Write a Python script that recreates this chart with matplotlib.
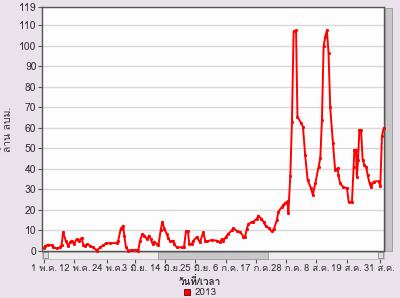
import matplotlib
matplotlib.use("Agg")
import matplotlib.pyplot as plt
from matplotlib import font_manager, ft2font
from matplotlib.patches import Rectangle

# ---------------- data ----------------
days = [0, 0.4, 1.5, 2.8, 3.4, 4.6, 5.8, 6.4, 7.0, 7.9, 8.8, 9.5, 10.1, 10.9, 11.9,
        12.6, 13.7, 14.3, 14.9, 15.8, 16.7, 17.9, 19.2, 20.4, 21.6, 22.6, 24.0, 26.4,
        27.0, 27.9, 28.8, 29.2, 29.8, 30.7, 31.9, 33.7, 34.3, 34.9, 35.8, 36.5, 37.4,
        38.2, 38.8, 39.5, 40.1, 41.0, 41.6, 42.4, 43.0, 43.8, 44.6, 45.2, 45.8, 46.8,
        47.3, 48.3, 50.1, 50.9, 51.6, 52.3, 52.8, 53.7, 54.3, 55.5, 56.7, 57.9, 58.6,
        59.2, 61.0, 62.8, 64.0, 64.6, 65.2, 66.2, 66.9, 68.3, 68.8, 70.1, 71.3, 72.5,
        73.1, 73.7, 74.3, 75.5, 76.1, 77.4, 77.9, 78.9, 79.8, 80.6, 81.6, 82.8, 83.6,
        84.6, 85.2, 86.4, 87.0, 87.6, 88.5, 88.8, 89.5, 90.1, 90.7, 91.6, 92.1, 93.4,
        94.1, 94.9, 95.8, 97.0, 97.7, 98.6, 99.8, 100.4, 101.0, 101.6, 102.2, 102.8,
        103.4, 104.0, 105.0, 105.8, 106.7, 107.0, 107.6, 108.8, 110.1, 110.7, 111.9,
        112.5, 112.8, 113.4, 113.7, 114.1, 114.6, 115.2, 115.8, 116.4, 117.1, 117.6,
        118.3, 118.8, 119.8, 121.6, 122.2, 122.8, 123.4]
values = [1.5, 2.5, 3.0, 2.8, 1.7, 1.2, 1.7, 2.8, 9.2, 5.0, 2.5, 4.2, 5.0, 3.3, 5.8,
          4.7, 6.3, 3.0, 2.5, 3.3, 2.5, 1.7, 0.2, 1.7, 2.8, 3.7, 3.8, 3.8,
          5.0, 10.8, 12.3, 7.5, 1.7, 0.2, 0.5, 0.5, 0.2, 5.0, 8.3, 7.5, 5.8,
          7.5, 5.8, 3.3, 4.5, 3.3, 2.8, 10.0, 14.2, 10.8, 8.3, 6.2, 4.7, 5.0,
          3.3, 1.7, 1.7, 2.0, 9.7, 9.7, 3.3, 3.3, 5.0, 6.7, 4.2, 9.2, 5.0,
          4.7, 5.3, 5.0, 4.2, 5.8, 5.0, 7.0, 8.3, 10.0, 11.2, 9.7, 9.2, 7.0,
          7.0, 10.8, 13.0, 14.2, 14.2, 15.8, 17.2, 15.8, 14.2, 12.0, 11.2, 9.5, 10.8,
          15.0, 19.2, 21.3, 22.4, 23.3, 24.2, 18.7, 36.5, 63.0, 107.0, 107.5, 65.5, 62.3,
          60.6, 46.8, 34.6, 30.6, 27.3, 33.0, 41.0, 45.2, 63.9, 99.7, 104.5, 107.5,
          96.4, 70.0, 52.5, 39.5, 40.3, 37.0, 33.0, 31.0, 30.6, 24.0, 23.7,
          41.0, 49.3, 49.3, 36.2, 44.4, 59.0, 59.0, 44.4, 42.0, 41.0, 37.0,
          33.0, 31.0, 33.8, 34.0, 31.7, 55.8, 59.8]
series_name = "2013"
tick_days = [0, 11, 23, 33, 44, 55, 66, 77, 88, 99, 110, 122]
tick_labels = ["1 พ.ค.", "12 พ.ค.", "24 พ.ค.", "3 มิ.ย.", "14 มิ.ย.", "25 มิ.ย.",
               "6 ก.ค.", "17 ก.ค.", "28 ก.ค.", "8 ส.ค.", "19 ส.ค.", "31 ส.ค."]
y_ticks = [0, 10, 20, 30, 40, 50, 60, 70, 80, 90, 100, 110, 119]
y_label = "ล้าน ลบม."
x_label = "วันที่/เวลา"

# ---------------- fonts ----------------
thai_fam = None
for f in font_manager.fontManager.ttflist:
    try:
        cm = ft2font.FT2Font(f.fname).get_charmap()
        if 0x0E01 in cm and 0x0E25 in cm and 0x0E34 in cm:
            thai_fam = f.name
            break
    except Exception:
        pass
fams = ([thai_fam] if thai_fam else []) + ["DejaVu Sans"]
plt.rcParams["font.family"] = fams

BG = "#E9E2EA"
TXT = "#333333"

fig = plt.figure(figsize=(4.0, 2.98), dpi=100, facecolor=BG)
ax = fig.add_axes([0.105, 0.158, 0.854, 0.819])
ax.set_facecolor("#FDFDFD")

ax.plot(days, values, color="#FF0000", lw=1.4, marker="s", ms=1.1,
        mec="#FF0000", mfc="#FF0000", zorder=3, clip_on=False)

ax.set_xlim(-0.7, 123.4)
ax.set_ylim(0, 119)
ax.set_yticks(y_ticks)
ax.set_yticklabels([str(v) for v in y_ticks], fontsize=7.5, color=TXT)
ax.yaxis.grid(True, color="#D9D9D9", lw=1.0)
ax.set_axisbelow(True)
ax.tick_params(axis="y", length=3, width=0.8, color="#555555", pad=1)
ax.set_xticks([])
for s in ax.spines.values():
    s.set_color("#555555")
    s.set_linewidth(1.0)

ax.set_ylabel(y_label, fontsize=7.5, color=TXT, labelpad=4)

# secondary axis below scrollbar carrying the date ticks
sec = ax.secondary_xaxis(-0.032)
sec.set_xticks(tick_days)
sec.set_xticklabels(tick_labels, fontsize=6.8, color=TXT)
sec.tick_params(axis="x", length=3, width=0.8, color="#555555", pad=0.5)
sec.spines["bottom"].set_visible(False)

fig.text(0.5, 0.056, x_label, ha="center", va="center", fontsize=7.2,
         color=TXT, fontweight="bold")

# horizontal scrollbar
ax.add_patch(Rectangle((0.0, -0.032), 1.0, 0.028, transform=ax.transAxes,
                       clip_on=False, facecolor="#EEEEEE", edgecolor="#BBBBBB", lw=0.6))
ax.add_patch(Rectangle((0.34, -0.032), 0.322, 0.028, transform=ax.transAxes,
                       clip_on=False, facecolor="#C8C8C8", edgecolor="#999999", lw=0.6))
ax.add_patch(Rectangle((0.003, -0.030), 0.014, 0.024, transform=ax.transAxes,
                       clip_on=False, facecolor="#DDDDDD", edgecolor="#777777", lw=0.5))
ax.add_patch(Rectangle((0.983, -0.030), 0.014, 0.024, transform=ax.transAxes,
                       clip_on=False, facecolor="#DDDDDD", edgecolor="#777777", lw=0.5))

# vertical scrollbar on the right
ax.add_patch(Rectangle((1.005, 0.0), 0.02, 0.995, transform=ax.transAxes,
                       clip_on=False, facecolor="#C6C6C6", edgecolor="#999999", lw=0.6))

# legend
leg = fig.legend([plt.Line2D([], [], ls="none", marker="s", ms=4.5, mfc="#FF0000",
                             mec="#660000", mew=0.6)],
                 [series_name], loc="center", bbox_to_anchor=(0.5, 0.018),
                 frameon=False, fontsize=7.2, handlelength=0.8, handletextpad=0.3,
                 borderpad=0)
for t in leg.get_texts():
    t.set_color(TXT)

fig.savefig("out.png", dpi=100, facecolor=BG)
